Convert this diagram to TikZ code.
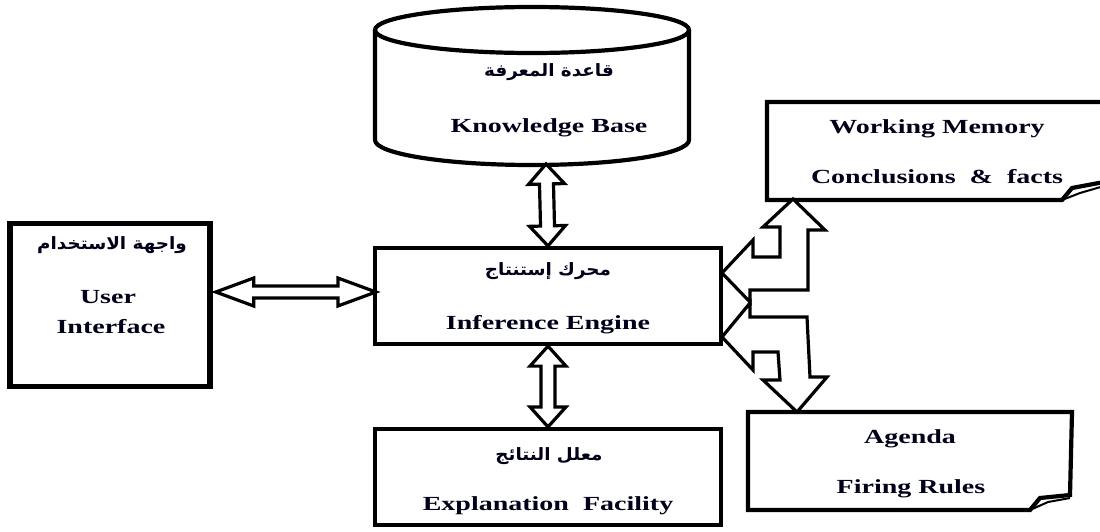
\documentclass[tikz,border=0pt]{standalone}
\usepackage{fontspec}
\setmainfont{Liberation Serif}
\newfontfamily\arabicfont[Script=Arabic]{DejaVu Sans}
\TeXXeTstate=1
\usetikzlibrary{calc}
\newcommand{\sx}[1]{\scalebox{1.4}[1]{#1}}
\newcommand{\artext}[1]{\scalebox{1.08}[1]{\arabicfont\bfseries\beginR #1\endR}}
% double block arrow: from, to, head length, head half-width, shaft half-width
\newcommand{\dblarrow}[5]{%
  \draw[blk] let \p1=(#1), \p2=(#2), \n1={atan2(\y2-\y1,\x2-\x1)}, \n2={veclen(\x2-\x1,\y2-\y1)} in
    [shift={(\p1)}, rotate=\n1]
    (0,0) -- (#3,#4) -- (#3,#5) -- ({\n2-#3},#5) -- ({\n2-#3},#4) -- ({\n2},0)
    -- ({\n2-#3},-#4) -- ({\n2-#3},-#5) -- (#3,-#5) -- (#3,-#4) -- cycle;}
\begin{document}
\begin{tikzpicture}[x=1pt,y=-1pt,line join=miter,
  box/.style={draw, line width=4.2pt, inner sep=0pt, fill=white},
  en/.style={font=\fontsize{20}{24}\selectfont\bfseries, anchor=base, inner sep=0pt, text=black!90!blue},
  arb/.style={font=\fontsize{17}{20}\selectfont, inner sep=0pt, text=black!90!blue},
  blk/.style={draw, line width=3.2pt, fill=white, line join=miter},
  doc/.style={draw, line width=4.2pt, fill=white, line join=miter}]
\useasboundingbox (0,0) rectangle (1100,531);
\clip (0,0) rectangle (1100,531);

% Knowledge base cylinder
\draw[line width=4.2pt] (375,30) -- (375,140) arc[start angle=180, end angle=0, x radius=157, y radius=25] -- (689,30);
\draw[line width=4.2pt] (532,30) ellipse [x radius=157, y radius=23];
\coordinate (kbb) at (546,164);
\node[arb] (kbar) at (549,72) {\artext{قاعدة المعرفة}};
\node[en] (kben) at (549,132) {\sx{Knowledge Base}};

% Inference engine
\node[box, minimum width=346pt, minimum height=96pt] (ie) at (548,296) {};
\node[arb] (iear) at (548,271) {\artext{محرك إستنتاج}};
\node[en] (ieen) at (548,329) {\sx{Inference Engine}};

% Explanation facility
\node[box, minimum width=346pt, minimum height=96pt] (ex) at (548,477) {};
\node[arb] (exar) at (549,456) {\artext{معلل النتائج}};
\node[en] (exen) at (548,510) {\sx{Explanation\ \ Facility}};

% User interface
\node[box, line width=5.5pt, minimum width=200pt, minimum height=163pt] (ui) at (110,305) {};
\node[arb] (uiar) at (112,245) {\artext{واجهة الاستخدام}};
\node[en] (uien1) at (108,303) {\sx{User}};
\node[en] (uien2) at (111,333) {\sx{Interface}};

% Working memory (document shape)
\draw[doc] (767,102) -- (1104,102) -- (1104,182) -- (1072,188) -- (1062,200) -- (767,200) -- cycle;
\draw[line width=2pt] (1062,200) -- (1080,193) -- (1104,186);
\coordinate (wm) at (793,199);
\node[en] (wmen1) at (937,133) {\sx{Working Memory}};
\node[en] (wmen2) at (937,183) {\sx{Conclusions\ \ \&\ \ facts}};

% Agenda (document shape)
\draw[doc] (748,412) -- (1072,412) -- (1070,495) -- (1040,498) -- (1030,510) -- (748,510) -- cycle;
\draw[line width=2pt] (1030,510) -- (1048,502) -- (1070,498);
\coordinate (ag) at (797,412);
\node[en] (agen1) at (910,443) {\sx{Agenda}};
\node[en] (agen2) at (911,493) {\sx{Firing Rules}};

% straight double arrows
\coordinate (uie2) at ([yshift=4pt,xshift=3pt]ie.west);
\coordinate (uie1) at ([xshift=3pt]ui.east |- uie2);
\dblarrow{uie1}{uie2}{38}{14}{6}
\dblarrow{kbb}{ie.north}{20}{18}{7}
\dblarrow{ie.south}{ex.north}{20}{18}{7}

% bent double arrows (engine <-> working memory, engine <-> agenda)
\coordinate (ie1) at (722,273);
\coordinate (ie2) at (722,337);
\draw[blk] (ie1) -- (753,240) -- (753,257) -- (780,257) -- (780,227) -- (763,227) -- (wm)
  -- (825,230) -- (808,230) -- (808,290) -- (750,290) -- (750,302) -- cycle;
\draw[blk] (ie2) -- (750,303) -- (750,317) -- (807,317) -- (810,377) -- (827,377) -- (ag)
  -- (763,380) -- (780,380) -- (778,352) -- (753,352) -- (753,370) -- cycle;
\end{tikzpicture}
\end{document}
